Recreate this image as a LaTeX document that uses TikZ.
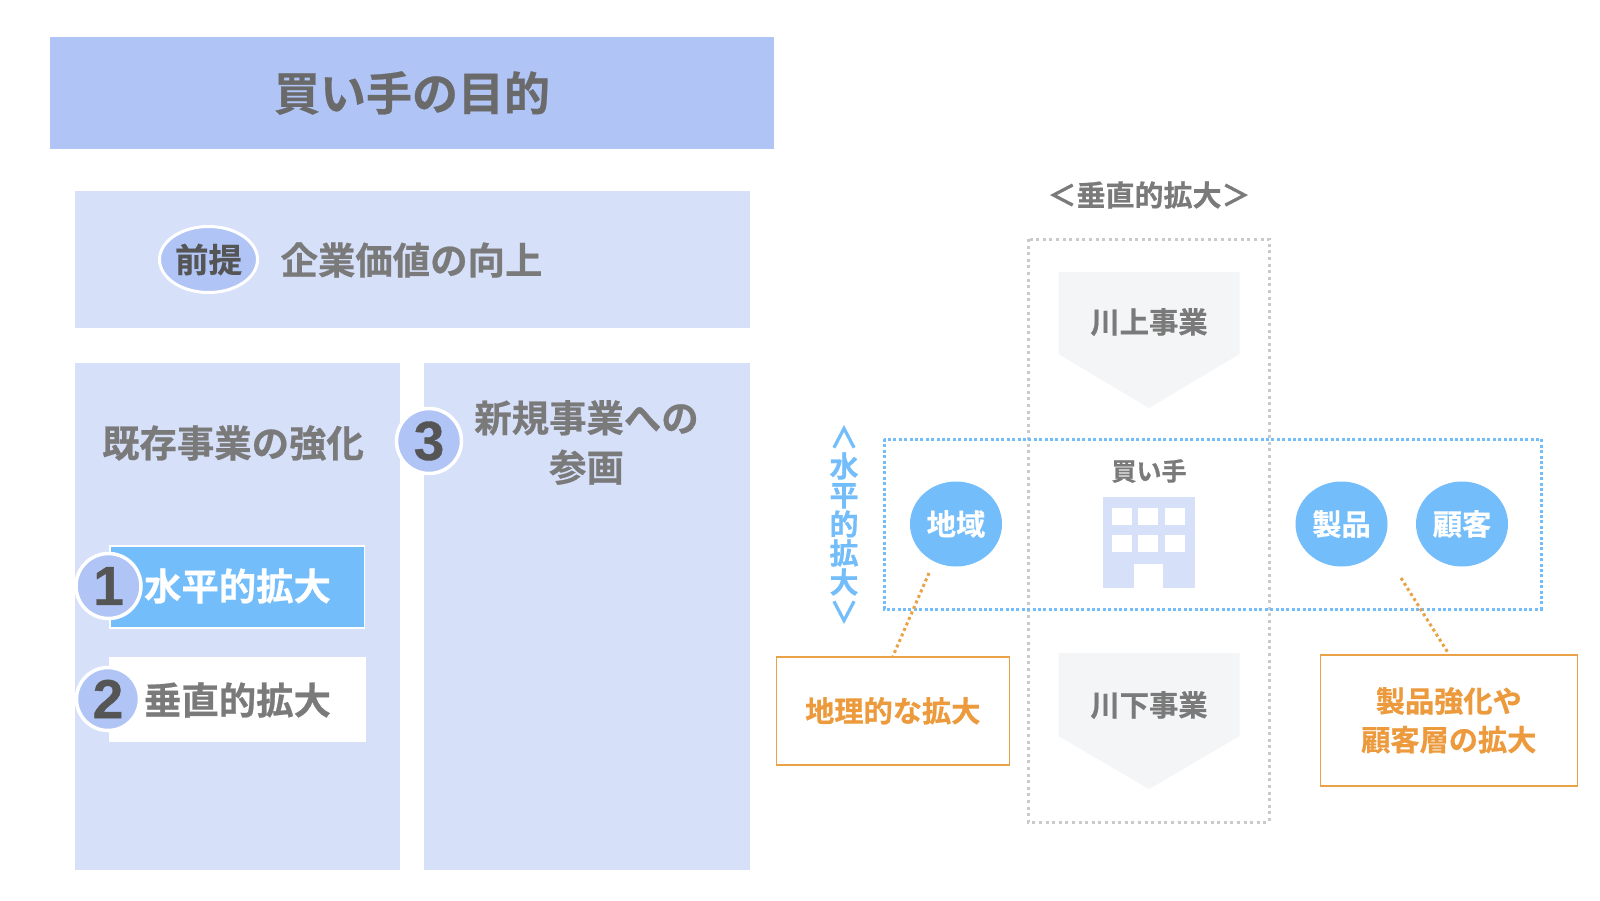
\documentclass[tikz,border=0pt]{standalone}
\usepackage{fontspec}
\setmainfont{Noto Sans CJK JP}[BoldFont={Noto Sans CJK JP Bold},BoldFeatures={FakeBold=0.6}]
\newfontfamily\digitfont{Liberation Sans}[BoldFont={Liberation Sans Bold},BoldFeatures={FakeBold=0.6}]
\usetikzlibrary{shapes.geometric}
\definecolor{hdrblue}{HTML}{B0C4F5}
\definecolor{panelblue}{HTML}{D6E0F9}
\definecolor{skyblue}{HTML}{72BDFA}
\definecolor{txtgray}{HTML}{7A7A7A}
\definecolor{titlegray}{HTML}{6A6A6A}
\definecolor{numgray}{HTML}{555555}
\definecolor{dotgray}{HTML}{C9CACC}
\definecolor{penta}{HTML}{F4F5F7}
\definecolor{orangeln}{HTML}{E9A245}
\definecolor{orangetx}{HTML}{EC9A3C}
\newcommand{\fs}[1]{\fontsize{#1}{#1}\selectfont\bfseries}
\tikzset{
 x=1pt,y=-1pt,
 lbl/.style={inner sep=0pt,outer sep=0pt,text=txtgray,align=center,font=\fs{#1}},
 numc/.style={circle,fill=hdrblue,draw=white,line width=3.5pt,minimum size=#1,inner sep=0pt,text=numgray,font=\digitfont\fontsize{55}{55}\selectfont\bfseries},
 bluedots/.style={line width=3pt,dash pattern=on 3pt off 2.4pt},
 graydots/.style={line width=3pt,dash pattern=on 3pt off 3.6pt},
 ordots/.style={line width=3pt,dash pattern=on 3pt off 3pt},
 bubble/.style={ellipse,fill=skyblue,minimum width=92pt,minimum height=85pt,inner sep=0pt,text=white,font=\fs{29.3}},
 orbox/.style={draw=orangeln,line width=1.6pt,fill=white},
}
\begin{document}
\begin{tikzpicture}
\useasboundingbox[fill=white] (0,0) rectangle (1600,900);
% left side
\fill[hdrblue] (50,37) rectangle (774,149);
\node[lbl=46,text=titlegray] (title) at (412,93) {買い手の目的};
\fill[panelblue] (74.5,191) rectangle (750,328);
\node[ellipse,fill=hdrblue,draw=white,line width=3pt,minimum width=98pt,minimum height=66pt,inner sep=0pt,text=numgray,font=\fs{33.5}] (pre) at (208.5,259.5) {前提};
\node[lbl=37.4] (goal) at (411.5,260) {企業価値の向上};
\fill[panelblue] (74.5,363) rectangle (400,870);
\fill[panelblue] (424,363) rectangle (750,870);
\node[lbl=37.4] (exist) at (233,443) {既存事業の強化};
\node[lbl=37.4,text width=300pt] (newb) at (586.5,442.5) {新規事業への\\[12pt]参画};
\node[numc=65pt] (n3) at (429,441) {3};
\draw[white,line width=1.5pt,fill=skyblue] (110,546) rectangle (364.5,628);
\fill[white] (109,657) rectangle (366,742);
\node[numc=65pt] (n1) at (108.5,586) {1};
\node[numc=63pt] (n2) at (108,699) {2};
\node[lbl=37.4,text=white] (h) at (237.5,586) {水平的拡大};
\node[lbl=37.4] (v) at (237.5,700) {垂直的拡大};
% right side
\fill[penta] (1058.5,272) -- (1239.5,272) -- (1239.5,354) -- (1149,408) -- (1058.5,354) -- cycle;
\fill[penta] (1058.5,653) -- (1239.5,653) -- (1239.5,736) -- (1149,789) -- (1058.5,736) -- cycle;
\draw[dotgray,graydots] (1028,239) rectangle (1269,822);
\draw[skyblue,bluedots] (884,439) rectangle (1541,609);
\node[lbl=29] (vt) at (1149,195) {＜垂直的拡大＞};
\node[lbl=29.3] (up) at (1149,322) {川上事業};
\node[lbl=29.3] (down) at (1149,705) {川下事業};
\node[lbl=25] (buyer) at (1149,471) {買い手};
% building
\fill[panelblue] (1103,497) rectangle (1195,588);
\foreach \wx in {1112,1138,1165}{
 \foreach \wy in {508,535}{
  \fill[white] (\wx,\wy) rectangle ++(19.5,16.5);
 }
}
\fill[white] (1134,564) rectangle (1163,588);
\node[bubble] (geo) at (956,524) {地域};
\node[bubble] (prod) at (1341.5,524) {製品};
\node[bubble] (cust) at (1462,524) {顧客};
% horizontal label
\node[lbl=29,text=skyblue,rotate=-90] (ha) at (844,437) {＜};
\node[lbl=29,text=skyblue] (hv) at (844,524) {水\\平\\的\\拡\\大};
\node[lbl=29,text=skyblue,rotate=-90] (hb) at (844,612) {＞};
% callouts
\node[orbox,minimum width=233pt,minimum height=108pt,inner sep=0pt,anchor=north west,text=orangetx,font=\fs{29.2}] (c1) at (775.5,656) {地理的な拡大};
\node[orbox,minimum width=257pt,minimum height=131pt,inner sep=0pt,anchor=north west,text=orangetx,font=\fs{29.2},align=center] (c2) at (1319.5,654) {製品強化や\\[9.5pt]顧客層の拡大};
\coordinate (g1) at (929,573);
\coordinate (g2) at (1401,578);
\coordinate (g1e) at (893,656);
\draw[orangeln,ordots] (g1) -- (g1e);
\draw[orangeln,ordots] (g2) -- (c2.north);
\end{tikzpicture}
\end{document}
